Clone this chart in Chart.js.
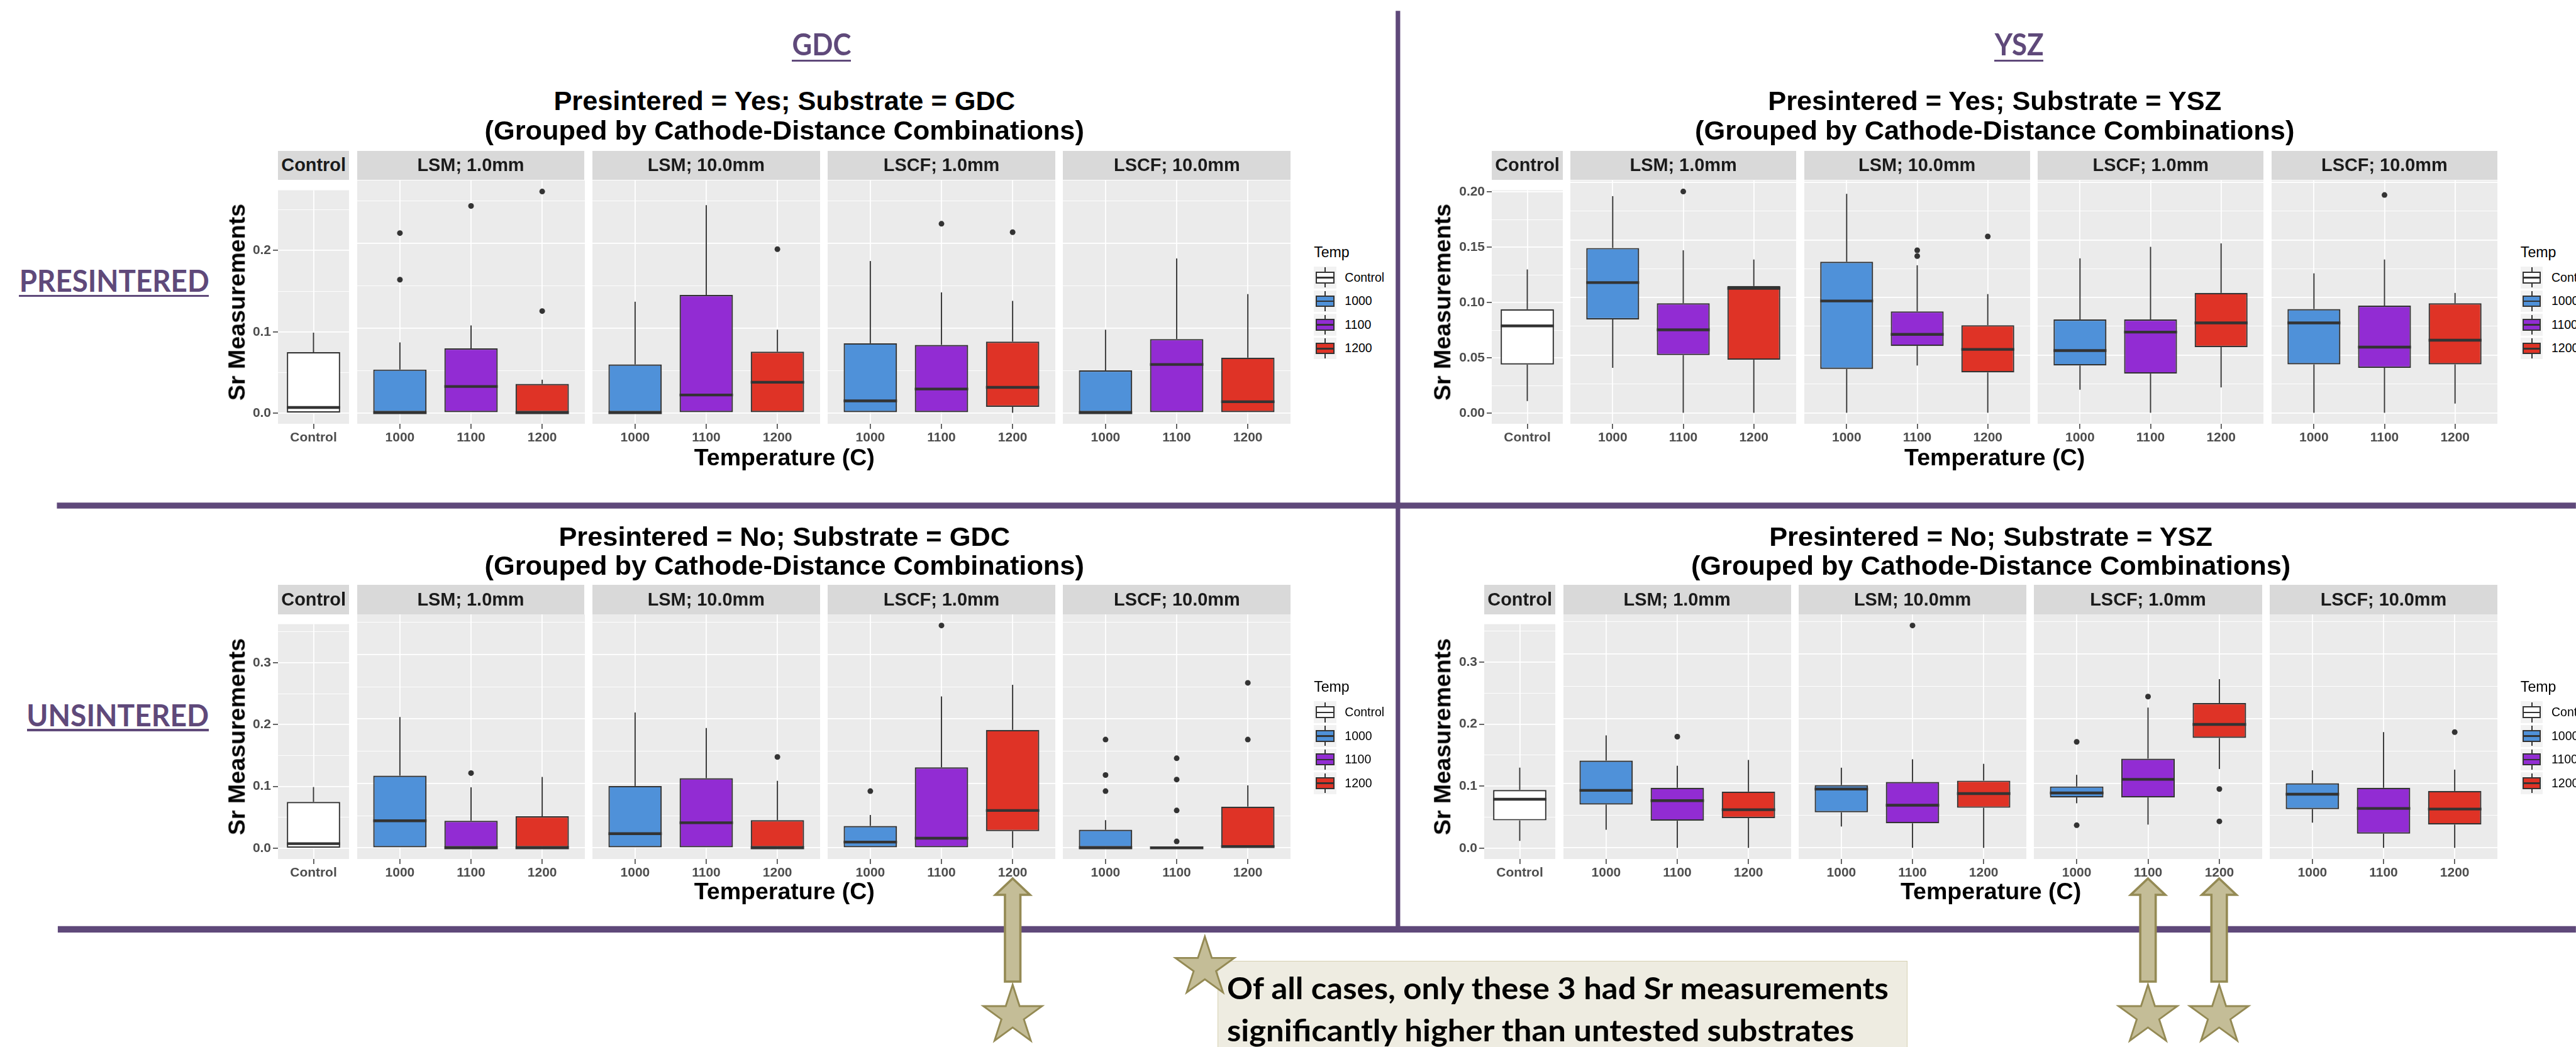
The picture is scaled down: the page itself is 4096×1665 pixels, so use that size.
<!DOCTYPE html>
<html>
<head>
<meta charset="utf-8">
<title>Sr measurements by substrate and presintering</title>
<script src="https://cdn.jsdelivr.net/npm/chart.js@4.4.1/dist/chart.umd.min.js"></script>
<style>
  html, body { margin: 0; padding: 0; background: #fff; }
  #page { position: relative; width: 4096px; height: 1665px; overflow: hidden; font-family: "Liberation Sans", Arial, sans-serif; }
  #page div { position: absolute; box-sizing: border-box; }
  .txt { display: flex; align-items: center; white-space: nowrap; line-height: 1; }
  .cal { font-family: Lato, "Open Sans", sans-serif; font-weight: bold; }
  #page svg { position: absolute; left: 0; top: 0; pointer-events: none; }
</style>
</head>
<body>
<div id="page"></div>
<script>
const S = 4096 / 5670;          // everything is laid out in reference pixels, then scaled
const PURPLE = '#5f497a';
const page = document.getElementById('page');

const facetNames = ['Control', 'LSM; 1.0mm', 'LSM; 10.0mm', 'LSCF; 1.0mm', 'LSCF; 10.0mm'];
const tempLabels = ['1000', '1100', '1200'];
const legendNames = ['Control', '1000', '1100', '1200'];
const tempColors = ['#ffffff', '#4f91d9', '#922cd3', '#df3326'];

// box order: Control, then 1000/1100/1200 for LSM 1.0mm, LSM 10.0mm, LSCF 1.0mm, LSCF 10.0mm
// Presintered = Yes, GDC
const gdcYesLow  = [0, 0, 0, 0, 0, 0, 0, 0, 0, 0, 0, 0, 0];
const gdcYesQ1   = [0, 0, 0, 0, 0, 0, 0, 0, 0, 0.007, 0, 0, 0];
const gdcYesMed  = [0.007, 0, 0.031, 0, 0, 0.021, 0.036, 0.014, 0.028, 0.030, 0, 0.057, 0.013];
const gdcYesQ3   = [0.075, 0.051, 0.076, 0.034, 0.057, 0.139, 0.072, 0.082, 0.080, 0.084, 0.050, 0.087, 0.065];
const gdcYesHigh = [0.099, 0.083, 0.103, 0.039, 0.131, 0.245, 0.098, 0.179, 0.142, 0.132, 0.098, 0.182, 0.140];
const gdcYesOut  = [[], [0.212, 0.157], [0.244], [0.261, 0.120], [], [], [0.193], [], [0.223], [0.213], [], [], []];

// Presintered = Yes, YSZ
const yszYesLow  = [0.011, 0.039, 0, 0, 0, 0.041, 0, 0.020, 0, 0.022, 0, 0, 0.008];
const yszYesQ1   = [0.044, 0.081, 0.050, 0.046, 0.038, 0.058, 0.035, 0.041, 0.034, 0.057, 0.042, 0.039, 0.042];
const yszYesMed  = [0.079, 0.113, 0.072, 0.108, 0.097, 0.068, 0.055, 0.054, 0.070, 0.078, 0.078, 0.057, 0.063];
const yszYesQ3   = [0.094, 0.143, 0.095, 0.110, 0.131, 0.088, 0.076, 0.081, 0.081, 0.104, 0.090, 0.093, 0.095];
const yszYesHigh = [0.130, 0.188, 0.141, 0.133, 0.190, 0.128, 0.103, 0.134, 0.144, 0.147, 0.121, 0.133, 0.104];
const yszYesOut  = [[], [], [0.192], [], [], [0.141, 0.136], [0.153], [], [], [], [], [0.189], []];

// Presintered = No, GDC
const gdcNoLow  = [0, 0, 0, 0, 0, 0, 0, 0, 0, 0, 0, 0, 0];
const gdcNoQ1   = [0, 0, 0, 0, 0, 0, 0, 0, 0, 0.026, 0, 0, 0];
const gdcNoMed  = [0.0075, 0.042, 0, 0, 0.022, 0.039, 0, 0.009, 0.015, 0.058, 0, 0, 0.002];
const gdcNoQ3   = [0.075, 0.112, 0.042, 0.049, 0.096, 0.108, 0.043, 0.034, 0.125, 0.183, 0.028, 0.002, 0.064];
const gdcNoHigh = [0.099, 0.203, 0.094, 0.110, 0.210, 0.186, 0.104, 0.051, 0.235, 0.253, 0.043, 0.002, 0.097];
const gdcNoOut  = [[], [], [0.116], [], [], [], [0.141], [0.088], [0.345], [], [0.168, 0.113, 0.088], [0.139, 0.106, 0.058, 0.010], [0.256, 0.168]];

// Presintered = No, YSZ
const yszNoLow  = [0.012, 0.028, 0, 0, 0.033, 0, 0, 0.069, 0.036, 0.122, 0.039, 0, 0];
const yszNoQ1   = [0.045, 0.067, 0.042, 0.046, 0.055, 0.038, 0.062, 0.078, 0.078, 0.170, 0.060, 0.022, 0.036];
const yszNoMed  = [0.079, 0.089, 0.073, 0.059, 0.091, 0.066, 0.084, 0.085, 0.106, 0.191, 0.083, 0.061, 0.060];
const yszNoQ3   = [0.094, 0.135, 0.093, 0.087, 0.097, 0.102, 0.104, 0.095, 0.138, 0.224, 0.100, 0.093, 0.088];
const yszNoHigh = [0.130, 0.174, 0.127, 0.136, 0.124, 0.137, 0.130, 0.113, 0.217, 0.261, 0.120, 0.179, 0.121];
const yszNoOut  = [[], [], [0.172], [], [], [0.344], [], [0.164, 0.035], [0.234], [0.091, 0.041], [], [], [0.179]];

const panels = [
  { title: 'Presintered = Yes; Substrate = GDC', low: gdcYesLow, q1: gdcYesQ1, med: gdcYesMed, q3: gdcYesQ3, high: gdcYesHigh, out: gdcYesOut,
    major: 0.1, minor: 0.05, digits: 1, left: 612, right: 2841, top: 397, bottom: 933, titleY: 223, xTitleY: 1008, yTitleX: 521 },
  { title: 'Presintered = Yes; Substrate = YSZ', low: yszYesLow, q1: yszYesQ1, med: yszYesMed, q3: yszYesQ3, high: yszYesHigh, out: yszYesOut,
    major: 0.05, minor: 0.025, digits: 2, left: 3284, right: 5497, top: 397, bottom: 933, titleY: 223, xTitleY: 1008, yTitleX: 3175 },
  { title: 'Presintered = No; Substrate = GDC', low: gdcNoLow, q1: gdcNoQ1, med: gdcNoMed, q3: gdcNoQ3, high: gdcNoHigh, out: gdcNoOut,
    major: 0.1, minor: 0.05, digits: 1, left: 612, right: 2841, top: 1353, bottom: 1891, titleY: 1182, xTitleY: 1963, yTitleX: 521 },
  { title: 'Presintered = No; Substrate = YSZ', low: yszNoLow, q1: yszNoQ1, med: yszNoMed, q3: yszNoQ3, high: yszNoHigh, out: yszNoOut,
    major: 0.1, minor: 0.05, digits: 1, left: 3267, right: 5497, top: 1353, bottom: 1891, titleY: 1182, xTitleY: 1963, yTitleX: 3175 }
];

const px = v => v * S;

function rect(x, y, w, h, bg) {
  const d = document.createElement('div');
  Object.assign(d.style, { left: px(x) + 'px', top: px(y) + 'px', width: px(w) + 'px', height: px(h) + 'px', background: bg });
  page.appendChild(d);
  return d;
}

function addText(str, x, y, size, o = {}) {
  const d = document.createElement('div');
  d.className = 'txt' + (o.cls ? ' ' + o.cls : '');
  const span = document.createElement('span');
  span.textContent = str;
  d.appendChild(span);
  const align = o.align || 'center';
  const W = 4000;
  const left = align === 'center' ? x - W / 2 : align === 'left' ? x : x - W;
  Object.assign(d.style, {
    left: px(left) + 'px', width: px(W) + 'px', top: px(y - size) + 'px', height: px(2 * size) + 'px',
    fontSize: px(size) + 'px',
    justifyContent: align === 'center' ? 'center' : align === 'left' ? 'flex-start' : 'flex-end'
  });
  if (o.weight) d.style.fontWeight = o.weight;
  if (o.color) d.style.color = o.color;
  if (o.rotate) d.style.transform = 'rotate(-90deg)';
  page.appendChild(d);
  let k = o.scaleX || 1;
  if (o.fitWidth) k = px(o.fitWidth) / span.getBoundingClientRect().width;
  if (k !== 1) {
    span.style.transform = 'scaleX(' + k + ')';
    span.style.transformOrigin = align === 'left' ? 'left center' : align === 'right' ? 'right center' : 'center';
  }
  return k;
}

function facetSpans(left, right) {
  const gap = 17;
  const unit = (right - left - 4 * gap) / (1 + 4 * 3.2);
  const spans = [[left, left + unit]];
  let x = left + unit + gap;
  for (let k = 0; k < 4; k++) { spans.push([x, x + 3.2 * unit]); x += 3.2 * unit + gap; }
  return spans;
}

const panelBg = {
  id: 'panelBg',
  beforeDraw(chart) {
    const { ctx, chartArea: a } = chart;
    ctx.save();
    ctx.fillStyle = '#ebebeb';
    ctx.fillRect(a.left, a.top, a.right - a.left, a.bottom - a.top);
    ctx.restore();
  }
};

const whiskerPlugin = {
  id: 'whiskers',
  afterDatasetsDraw(chart) {
    const ds = chart.data.datasets[0];
    const meta = chart.getDatasetMeta(0);
    const ys = chart.scales.y;
    const ctx = chart.ctx;
    const seg = (x1, y1, x2, y2, lw) => {
      ctx.lineWidth = lw;
      ctx.beginPath(); ctx.moveTo(x1, y1); ctx.lineTo(x2, y2); ctx.stroke();
    };
    ctx.save();
    ctx.strokeStyle = '#333333';
    ds.whiskers.forEach((w, i) => {
      const bar = meta.data[i];
      const [q1, q3] = ds.data[i].y;
      seg(bar.x, ys.getPixelForValue(q3), bar.x, ys.getPixelForValue(w.high), 1.9);
      seg(bar.x, ys.getPixelForValue(q1), bar.x, ys.getPixelForValue(w.low), 1.9);
      const ym = ys.getPixelForValue(w.med);
      seg(bar.x - bar.width / 2, ym, bar.x + bar.width / 2, ym, 4.4);
    });
    ctx.restore();
  }
};

const tickFont = { family: 'Liberation Sans', size: px(29), weight: 'bold' };

function facetChart(p, f, span, yMin, yMax, ticksY) {
  const first = f === 0;
  const idx = first ? [0] : [0, 1, 2].map(t => 1 + 3 * (f - 1) + t);
  const labels = first ? ['Control'] : tempLabels;
  const colors = first ? [tempColors[0]] : tempColors.slice(1);
  const axisW = first ? 80 : 0;
  const axisH = 44;
  const l = Math.round(px(span[0])), r = Math.round(px(span[1]));
  const t = Math.round(px(p.top)), b = Math.round(px(p.bottom));
  const wrap = document.createElement('div');
  Object.assign(wrap.style, { left: (l - axisW) + 'px', top: t + 'px', width: (r - l + axisW) + 'px', height: (b - t + axisH) + 'px' });
  const cv = document.createElement('canvas');
  cv.width = r - l + axisW;
  cv.height = b - t + axisH;
  wrap.appendChild(cv);
  page.appendChild(wrap);

  const boxes = idx.map((i, k) => ({ x: k + 1, y: [p.q1[i], p.q3[i]] }));
  const whisk = idx.map(i => ({ low: p.low[i], med: p.med[i], high: p.high[i] }));
  const outliers = [];
  idx.forEach((i, k) => p.out[i].forEach(v => outliers.push({ x: k + 1, y: v })));
  const isMajor = v => Math.abs(v / p.major - Math.round(v / p.major)) < 1e-6;

  new Chart(cv, {
    type: 'bar',
    data: {
      datasets: [
        { type: 'bar', data: boxes, whiskers: whisk, backgroundColor: colors, borderColor: '#333333', borderWidth: 2.2,
          borderSkipped: false, barPercentage: 0.75, categoryPercentage: 1, grouped: false },
        { type: 'scatter', data: outliers, pointRadius: 4.5, pointBackgroundColor: '#333333', pointBorderWidth: 0 }
      ]
    },
    options: {
      responsive: false, animation: false, devicePixelRatio: 1, events: [],
      layout: { padding: 0, autoPadding: false },
      plugins: { legend: { display: false }, tooltip: { enabled: false } },
      scales: {
        x: {
          type: 'linear', offset: false, min: first ? 0.5 : 0.4, max: first ? 1.5 : 3.6,
          afterBuildTicks: s => { s.ticks = labels.map((_, k) => ({ value: k + 1 })); },
          afterFit: s => { s.height = axisH; },
          ticks: { callback: (v, k) => labels[k], autoSkip: false, maxRotation: 0, padding: 2, color: '#4d4d4d', font: tickFont },
          grid: { offset: false, color: '#ffffff', lineWidth: 1.8, tickColor: '#333333', tickLength: 8, tickWidth: 1.5 },
          border: { display: false }
        },
        y: {
          type: 'linear', min: yMin, max: yMax,
          afterBuildTicks: s => { s.ticks = ticksY.map(v => ({ value: v })); },
          afterFit: s => { s.width = axisW; },
          ticks: { display: first, callback: v => isMajor(v) ? v.toFixed(p.digits) : '', autoSkip: false, padding: 3, color: '#4d4d4d', font: tickFont },
          grid: {
            color: '#ffffff', drawTicks: first, tickLength: 8, tickWidth: 1.5,
            lineWidth: c => (c.tick && isMajor(c.tick.value)) ? 1.8 : 0.9,
            tickColor: c => (c.tick && isMajor(c.tick.value)) ? '#333333' : 'rgba(0,0,0,0)'
          },
          border: { display: false }
        }
      }
    },
    plugins: [panelBg, whiskerPlugin]
  });
}

function legend(right, pc) {
  const keyLeft = right + 51;
  addText('Temp', keyLeft, pc - 109, 32, { align: 'left' });
  legendNames.forEach((name, i) => {
    const top = pc - 78 + i * 52;
    rect(keyLeft, top, 49, 48, '#f2f2f2');
    rect(keyLeft + 23.2, top + 2, 2.6, 44, '#333333');
    const b = rect(keyLeft + 4, top + 11, 41, 26, tempColors[i]);
    b.style.border = px(3.2) + 'px solid #333333';
    rect(keyLeft + 4, top + 22.5, 41, 3.6, '#333333');
    addText(name, right + 119, top + 24, 27, { align: 'left' });
  });
}

panels.forEach(p => {
  const spans = facetSpans(p.left, p.right);
  const hi = Math.max(...p.high, ...p.out.flat());
  const lo = Math.min(...p.low, ...p.out.flat());
  const yMin = lo - 0.05 * (hi - lo), yMax = hi + 0.05 * (hi - lo);
  const ticksY = [];
  for (let k = 0; k * p.minor <= yMax + 1e-9; k++) ticksY.push(+(k * p.minor).toFixed(4));

  spans.forEach((sp, f) => {
    rect(sp[0], p.top - 65, sp[1] - sp[0], 64, '#d9d9d9');
    addText(facetNames[f], (sp[0] + sp[1]) / 2, p.top - 33, 40, { weight: 'bold', color: '#1a1a1a' });
    facetChart(p, f, sp, yMin, yMax, ticksY);
  });

  const cx = (p.left + p.right) / 2;
  addText(p.title, cx, p.titleY, 60, { weight: 'bold' });
  addText('(Grouped by Cathode-Distance Combinations)', cx, p.titleY + 64, 60, { weight: 'bold' });
  addText('Temperature (C)', cx, p.xTitleY, 52, { weight: 'bold' });
  addText('Sr Measurements', p.yTitleX, (p.top + p.bottom) / 2, 52, { weight: 'bold', rotate: true });
  legend(p.right, (p.top + p.bottom) / 2);
});

// slide annotations
addText('GDC', 1808, 98, 65, { cls: 'cal', color: PURPLE, fitWidth: 130 });
rect(1808 - 65, 131, 130, 5, PURPLE);
addText('YSZ', 4444, 98, 65, { cls: 'cal', color: PURPLE, fitWidth: 108 });
rect(4444 - 54, 131, 108, 5, PURPLE);
addText('PRESINTERED', 460, 616, 67, { cls: 'cal', color: PURPLE, align: 'right', fitWidth: 418 });
rect(42, 649, 418, 5, PURPLE);
addText('UNSINTERED', 460, 1573, 67, { cls: 'cal', color: PURPLE, align: 'right', fitWidth: 401 });
rect(59, 1605, 401, 5, PURPLE);

const note = rect(2680, 2115, 1519, 230, '#eeece1');
note.style.border = px(2.5) + 'px solid #d6d1b2';
const k = addText('Of all cases, only these 3 had Sr measurements', 2701, 2173, 67, { cls: 'cal', align: 'left', fitWidth: 1456 });
addText('significantly higher than untested substrates', 2701, 2267, 67, { cls: 'cal', align: 'left', scaleX: k });

// arrows sit under the flagged boxes: GDC/No LSCF 1.0mm 1200, YSZ/No LSCF 1.0mm 1100 and 1200
const tickX = (p, f, t) => { const sp = facetSpans(p.left, p.right)[f]; return sp[0] + (t - 0.4) / 3.2 * (sp[1] - sp[0]); };
const arrowXs = [tickX(panels[2], 3, 3), tickX(panels[3], 3, 2), tickX(panels[3], 3, 3)];

const starPts = (cx, cy, R) => {
  const pts = [];
  for (let i = 0; i < 10; i++) {
    const a = -Math.PI / 2 + i * Math.PI / 5;
    const rr = i % 2 ? R * 0.382 : R;
    pts.push((cx + rr * Math.cos(a)).toFixed(1) + ',' + (cy + rr * Math.sin(a)).toFixed(1));
  }
  return pts.join(' ');
};
const arrowPts = cx => [[cx, 1934], [cx + 38, 1970], [cx + 17, 1970], [cx + 17, 2161], [cx - 17, 2161], [cx - 17, 1970], [cx - 38, 1970]]
  .map(q => q.join(',')).join(' ');

let svg = '<svg width="4096" height="1665" viewBox="0 0 5670 2305" xmlns="http://www.w3.org/2000/svg">';
svg += '<line x1="3077" y1="24" x2="3077" y2="2046" stroke="' + PURPLE + '" stroke-width="10"/>';
svg += '<line x1="125" y1="1113" x2="5670" y2="1113" stroke="' + PURPLE + '" stroke-width="13"/>';
svg += '<line x1="127" y1="2046" x2="5670" y2="2046" stroke="' + PURPLE + '" stroke-width="14"/>';
arrowXs.forEach(x => {
  svg += '<polygon points="' + arrowPts(x) + '" fill="#c4bd97" stroke="#948a54" stroke-width="5"/>';
  svg += '<polygon points="' + starPts(x, 2236, 68) + '" fill="#c4bd97" stroke="#948a54" stroke-width="4"/>';
});
svg += '<polygon points="' + starPts(2652, 2130, 68) + '" fill="#c4bd97" stroke="#948a54" stroke-width="4"/>';
svg += '</svg>';
page.insertAdjacentHTML('beforeend', svg);
</script>
</body>
</html>
